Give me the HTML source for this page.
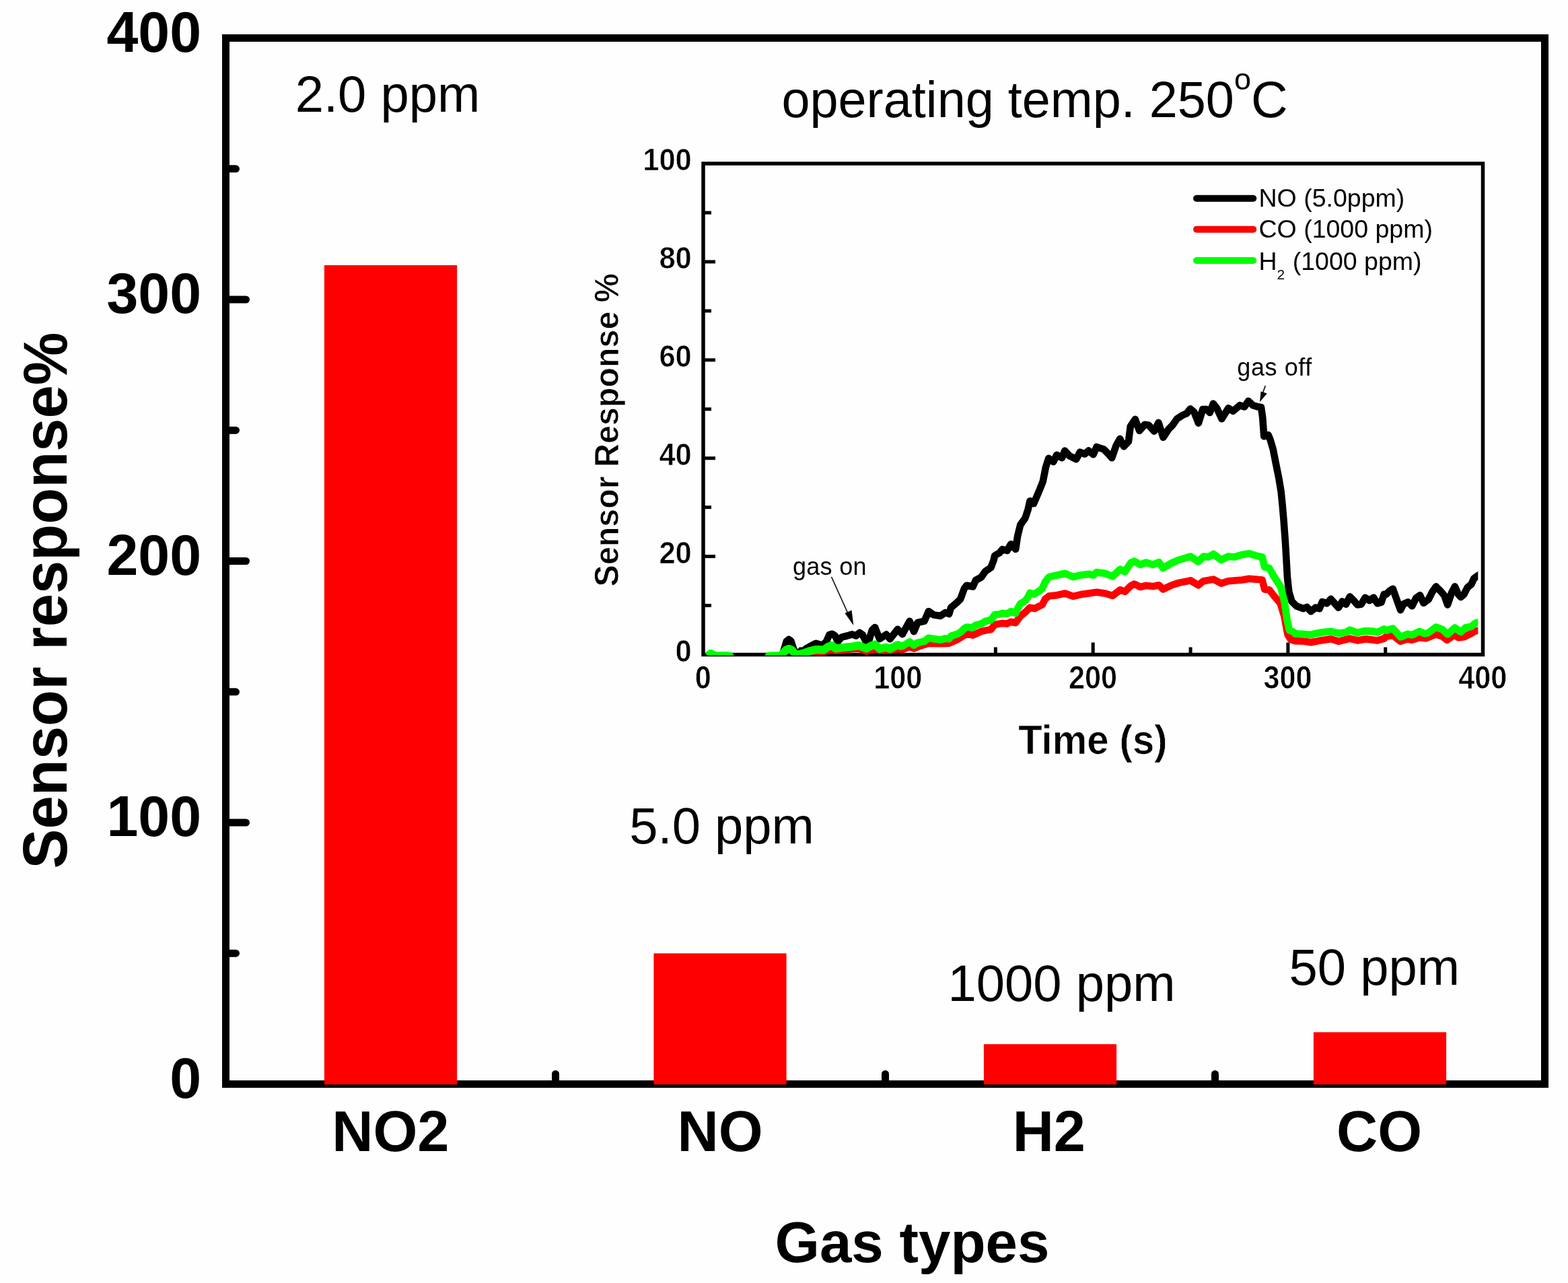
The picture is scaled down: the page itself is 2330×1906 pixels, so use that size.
<!DOCTYPE html>
<html lang="en"><head><meta charset="utf-8"><title>Sensor response by gas type</title>
<style>html,body{margin:0;padding:0;background:#fefefe;}body{width:2330px;height:1906px;overflow:hidden;}svg{display:block;}</style>
</head><body>
<svg width="2330" height="1906" viewBox="0 0 2330 1906">
<rect x="0" y="0" width="2330" height="1906" fill="#fefefe"/>
<g stroke="#000" stroke-width="11" stroke-linecap="round" fill="none">
<line x1="335.5" y1="1222.0" x2="365.5" y2="1222.0"/>
<line x1="335.5" y1="833.5" x2="365.5" y2="833.5"/>
<line x1="335.5" y1="445.0" x2="365.5" y2="445.0"/>
<line x1="335.5" y1="1416.2" x2="350.5" y2="1416.2"/>
<line x1="335.5" y1="1027.8" x2="350.5" y2="1027.8"/>
<line x1="335.5" y1="639.2" x2="350.5" y2="639.2"/>
<line x1="335.5" y1="250.8" x2="350.5" y2="250.8"/>
<line x1="825.5" y1="1610.5" x2="825.5" y2="1595.5"/>
<line x1="1315.5" y1="1610.5" x2="1315.5" y2="1595.5"/>
<line x1="1805.5" y1="1610.5" x2="1805.5" y2="1595.5"/>
</g>
<rect x="335.5" y="56.5" width="1960.0" height="1554.0" fill="none" stroke="#000" stroke-width="11"/>
<rect x="481.9" y="394.0" width="197.2" height="1217.0" fill="#fe0000"/>
<rect x="971.4" y="1416.3" width="197.2" height="194.7" fill="#fe0000"/>
<rect x="1461.9" y="1551.2" width="197.2" height="59.8" fill="#fe0000"/>
<rect x="1951.9" y="1533.4" width="197.2" height="77.6" fill="#fe0000"/>
<g font-family="'Liberation Sans', Arial, sans-serif" fill="#000">
<g font-weight="bold" font-size="86" text-anchor="end">
<text transform="translate(299 1630.8) scale(0.98 1)">0</text>
<text transform="translate(299 1242.3) scale(0.98 1)">100</text>
<text transform="translate(299 853.8) scale(0.98 1)">200</text>
<text transform="translate(299 465.3) scale(0.98 1)">300</text>
<text transform="translate(299 76.8) scale(0.98 1)">400</text>
</g>
<g font-weight="bold" font-size="86" text-anchor="middle">
<text transform="translate(580.3 1710.3) scale(0.985 1)">NO2</text>
<text transform="translate(1070 1710.3) scale(0.985 1)">NO</text>
<text transform="translate(1558.8 1710.3) scale(0.985 1)">H2</text>
<text transform="translate(2049.5 1710.3) scale(0.985 1)">CO</text>
<text transform="translate(1355.5 1874.5) scale(0.9925 1)">Gas types</text>
</g>
<text font-weight="bold" font-size="92.5" text-anchor="middle" transform="translate(98.7 892) rotate(-90) scale(0.957 1)">Sensor response%</text>
<g font-size="76">
<text x="438.7" y="166.4">2.0 ppm</text>
<text x="935.3" y="1253.3">5.0 ppm</text>
<text x="1408.5" y="1486.5">1000 ppm</text>
<text x="1915.5" y="1463">50 ppm</text>
<text x="1161.5" y="174" font-size="75.6">operating temp. 250<tspan font-size="45" dy="-41.5">o</tspan><tspan dy="41.5">C</tspan></text>
</g>
<g stroke="#000" stroke-width="5" fill="none">
<line x1="1045.0" y1="826.6" x2="1063.0" y2="826.6"/>
<line x1="1045.0" y1="680.7" x2="1063.0" y2="680.7"/>
<line x1="1045.0" y1="534.8" x2="1063.0" y2="534.8"/>
<line x1="1045.0" y1="388.9" x2="1063.0" y2="388.9"/>
<line x1="1045.0" y1="899.5" x2="1057.0" y2="899.5"/>
<line x1="1045.0" y1="753.6" x2="1057.0" y2="753.6"/>
<line x1="1045.0" y1="607.8" x2="1057.0" y2="607.8"/>
<line x1="1045.0" y1="461.9" x2="1057.0" y2="461.9"/>
<line x1="1045.0" y1="316.0" x2="1057.0" y2="316.0"/>
<line x1="1334.6" y1="972.5" x2="1334.6" y2="954.5"/>
<line x1="1624.2" y1="972.5" x2="1624.2" y2="954.5"/>
<line x1="1913.9" y1="972.5" x2="1913.9" y2="954.5"/>
<line x1="1189.8" y1="972.5" x2="1189.8" y2="961.5"/>
<line x1="1479.4" y1="972.5" x2="1479.4" y2="961.5"/>
<line x1="1769.1" y1="972.5" x2="1769.1" y2="961.5"/>
<line x1="2058.7" y1="972.5" x2="2058.7" y2="961.5"/>
</g>
<rect x="1045.0" y="243.0" width="1158.5" height="729.5" fill="none" stroke="#000" stroke-width="5.5"/>
<clipPath id="ic"><rect x="1045" y="243" width="1151.3" height="730.5"/></clipPath>
<g clip-path="url(#ic)" fill="none" stroke-linejoin="round">
<path stroke="#000" stroke-width="10.6" d="M1051.3,977.8 L1160.2,977.8 L1163.3,970.8 L1168.9,952.4 L1172.2,949.9 L1175.4,952.4 L1181.4,970.8 L1185.6,972.9 L1188.5,967.8 L1192,970.8 L1196.9,964.3 L1204,960 L1212.5,955.8 L1222.4,958.6 L1228,953 L1232.3,943.1 L1236.5,941.7 L1240.8,944.5 L1245,953 L1250.7,946.6 L1259.1,944.5 L1266.2,942.4 L1271.9,944.5 L1277.5,940 L1281.8,943.1 L1287.4,954.4 L1291.7,950.1 L1295.9,936 L1300.1,932 L1307.1,949.2 L1317,942.6 L1322.6,949.2 L1333.9,934.8 L1341,942.2 L1351.6,922.8 L1358,938.2 L1363.6,924.9 L1373.5,922.8 L1379.9,908.2 L1387.7,913.6 L1397.6,914.9 L1404.6,910.1 L1410.3,912.1 L1413.1,902.6 L1421.6,895.5 L1427.2,889.9 L1432.9,874.3 L1436.4,869.8 L1445.6,871.5 L1449.9,862 L1458.3,857.3 L1464,848.9 L1472.5,843.2 L1476.7,831.9 L1478.1,825.5 L1485.2,821.3 L1489.5,816.1 L1496.5,818 L1502.2,808.3 L1509.2,815.9 L1512.1,796.6 L1516.3,779.6 L1523.4,769.7 L1527.6,757 L1530.5,744.2 L1536.1,748.1 L1544,729.7 L1549.7,715.5 L1553.9,694.3 L1558.2,680.9 L1565.2,686.1 L1570.2,675.9 L1578,680.2 L1582.2,669.6 L1589.3,677.3 L1599.2,682.3 L1604.8,671.7 L1611.9,674.5 L1617.6,669.6 L1624.6,675.2 L1629.6,663.9 L1640.2,667.5 L1647.2,674.5 L1652.2,680.2 L1658.6,661.8 L1664.2,651.9 L1669.9,663.2 L1676.9,656.1 L1679.8,633.5 L1686.8,622.9 L1693.2,639.9 L1701,630.7 L1706.6,631.4 L1715.1,640.6 L1721.5,627.9 L1728.5,649.8 L1736.3,637.8 L1742,632.1 L1749,622.2 L1757.5,616.6 L1763.2,614.4 L1768.8,607.4 L1774.5,612.3 L1780.9,628.6 L1787.2,608.1 L1792.9,608.1 L1797.8,613 L1802.8,599.6 L1808.4,606.7 L1815.5,622.2 L1825.2,606.4 L1832.3,610.7 L1842.2,602.2 L1849.3,604.3 L1854.9,595.8 L1862,602.2 L1869.1,604.3 L1874,605 L1876.1,619.2 L1877.6,639 L1878.3,648.2 L1884.6,646 L1887.5,653.1 L1891.7,667.2 L1895.9,688.5 L1900.2,709.7 L1903.7,730.9 L1905.8,752.1 L1907.6,773.3 L1909.7,801.6 L1911.4,829.8 L1912.9,856.7 L1915.3,879.3 L1919.6,893.5 L1926.7,900.5 L1936.6,904.1 L1942.2,901.9 L1947.9,908.3 L1954.9,902.6 L1960.6,904.1 L1964.8,894.2 L1971.9,896.3 L1977.6,889.9 L1983.2,896.3 L1988.9,902.6 L1994.5,893.5 L2000.2,897.7 L2005.8,886.4 L2011.5,892 L2017.1,898.4 L2022.8,897.7 L2028.5,887.8 L2034.8,892 L2041.2,887.8 L2046.8,896.3 L2052.5,894.9 L2056.7,882.8 L2060,882.7 L2064.9,877.8 L2069.8,874.8 L2074.7,888.6 L2081.1,906.2 L2085.5,897.4 L2092.3,894.4 L2098.2,900.3 L2104.1,888.6 L2110,884.2 L2115.3,895.9 L2122.7,890.5 L2128.6,878.8 L2133.9,871.4 L2141.3,878.8 L2146.2,884.6 L2151.1,898.4 L2157,880.7 L2161.9,871.4 L2166.8,882.7 L2170.7,887.1 L2175.6,882.7 L2180.5,872.9 L2186.3,868 L2190.3,859.2 L2195.7,855.3 L2201,852.3"/>
<path stroke="#fe0000" stroke-width="10.6" d="M1051.3,979.3 L1202.6,979.3 L1209.7,968.7 L1222.4,968.1 L1228,967 L1235.1,965.8 L1242.2,966.5 L1252.1,966 L1266.2,963.9 L1276.1,963.6 L1287.4,967.4 L1294.5,965.5 L1300.1,964.4 L1307.1,966.2 L1322.6,966.2 L1333.9,964.1 L1341,965.1 L1351.6,960.6 L1358,963.4 L1366.4,959.9 L1379.9,955.6 L1397.6,956.3 L1410.3,955.6 L1421.6,950.7 L1436.4,941.5 L1445.6,943.6 L1458.3,937.9 L1472.5,935.1 L1478.1,928 L1489.5,925.9 L1496.5,926.6 L1502.2,923.8 L1509.2,925.2 L1516.3,915.3 L1523.4,909.7 L1530.5,902.6 L1537.5,904 L1548.8,898.3 L1553.1,889.9 L1558.7,885.6 L1570.5,884.2 L1582.7,881.5 L1594.9,885.9 L1605.3,883.3 L1617.5,881.5 L1629.7,879.8 L1642,881.5 L1653.3,885 L1664.6,876.3 L1671.6,878.9 L1680.3,870.2 L1685.5,867.6 L1694.3,872 L1703,869.9 L1713.4,871.1 L1722.2,869.3 L1728.3,875.4 L1741.3,869.3 L1751.8,865.9 L1769.2,862.4 L1780.6,869.3 L1788.4,863.2 L1803.2,860.6 L1814.6,866.7 L1825,863.2 L1846,861.5 L1856.4,859.7 L1875.6,861.5 L1879.1,875.4 L1886.1,876.3 L1893,885 L1902.6,896.4 L1908.4,915.5 L1911.9,934.7 L1913.6,942.9 L1917.9,950 L1923.8,952.1 L1936.6,952.5 L1947.9,954.2 L1959.2,952.1 L1977.6,949.3 L1988.9,952.8 L2005.8,948.6 L2017.1,951.4 L2029.9,949.3 L2046.8,951.4 L2056.7,948.6 L2060,945.4 L2069.8,943.9 L2081.1,952.7 L2091.3,949.3 L2098.2,950.8 L2109,947.3 L2118.8,948.3 L2133.9,942.4 L2143.3,945.4 L2150.1,950.8 L2160.9,943.4 L2167.7,947.3 L2175.6,946.3 L2186.3,941 L2192.2,937.5 L2196.1,937 L2201,936.6"/>
<path stroke="#00fe00" stroke-width="12" d="M1051.3,974.5 L1056.3,970.9 L1061.2,973.7 L1068.3,974.5 L1079.6,974.1 L1085.2,975.5 L1088.1,980.5 L1139,980.5 L1142.5,974.8 L1158.8,974.2 L1162.3,972 L1168,965.6 L1172.2,963.9 L1176.4,965.6 L1182.1,972 L1187,972.3 L1195.5,969.9 L1204,967 L1213.9,964.9 L1223.8,965.6 L1230.9,960.7 L1235.8,959 L1242.2,963.5 L1252.1,962.1 L1266.2,960.7 L1276.1,959 L1287.4,963.5 L1294.5,959.3 L1300.1,957.6 L1307.1,963.9 L1317,961.8 L1322.6,963.9 L1333.9,958.2 L1341,960.4"/>
<path stroke="#00fe00" stroke-width="10.8" d="M1051.3,974 L1056.3,970.4 L1061.2,973.2 L1068.3,974 L1079.6,973.6 L1085.2,975 L1088.1,980 L1139,980 L1142.5,974.3 L1158.8,973.7 L1162.3,971.5 L1168,965.1 L1172.2,963.4 L1176.4,965.1 L1182.1,971.5 L1187,971.8 L1195.5,969.4 L1204,966.5 L1213.9,964.4 L1223.8,965.1 L1230.9,960.2 L1235.8,958.5 L1242.2,963 L1252.1,961.6 L1266.2,960.2 L1276.1,958.5 L1287.4,963 L1294.5,958.8 L1300.1,957.1 L1307.1,963.4 L1317,961.3 L1322.6,963.4 L1333.9,957.7 L1341,959.9 L1351.6,953.5 L1358,958.4 L1363.6,954.9 L1373.5,952.8 L1379.9,947.8 L1387.7,949.2 L1397.6,950.7 L1404.6,948.5 L1410.3,949.2 L1413.1,945 L1421.6,942.2 L1427.2,939.3 L1432.9,933.7 L1436.4,931.6 L1445.6,932.3 L1449.9,928.7 L1458.3,926.6 L1464,923.1 L1472.5,921 L1476.7,915.3 L1478.1,913.2 L1485.2,912.5 L1489.5,911.1 L1496.5,911.8 L1502.2,908.2 L1509.2,911.1 L1512.1,904 L1516.3,896.9 L1523.4,892.7 L1527.6,887 L1530.5,880.7 L1536.1,882.8 L1543.2,878.6 L1548.8,874.3 L1553.1,864.4 L1558.7,857.3 L1570.5,854.5 L1582.7,851.9 L1594.9,857.1 L1605.3,854.5 L1617.5,852.8 L1624.5,854.5 L1629.7,850.2 L1642,851.9 L1653.3,856.3 L1664.6,845.8 L1671.6,849.3 L1680.3,836.2 L1685.5,833.6 L1694.3,838.8 L1703,835.7 L1713.4,838.8 L1722.2,835.3 L1728.3,844.1 L1741.3,836.2 L1751.8,831.8 L1769.2,826.6 L1780.6,834.5 L1788.4,826.6 L1795.4,827.5 L1803.2,823.1 L1814.6,831.8 L1825,826.6 L1833.8,827.5 L1846,824 L1856.4,822.3 L1866.9,825.7 L1875.6,827.5 L1879.1,842.3 L1886.1,844.1 L1893,856.3 L1903.2,872 L1908.7,894.6 L1912.6,920.8 L1916.1,936.5 L1920.3,938 L1925.9,941.5 L1936.6,942.2 L1947.9,942.9 L1956.3,940.8 L1964.8,939.4 L1977.6,938 L1988.9,940.8 L2000.2,939.4 L2005.8,935.9 L2017.1,940.1 L2028.5,937.3 L2041.2,938 L2046.8,939.4 L2056.7,934.5 L2060,936.6 L2069.8,933.6 L2081.1,946.3 L2092.3,941.9 L2098.2,943.4 L2109,938 L2116.8,941.4 L2122.7,940 L2133.9,931.7 L2143.3,935.1 L2151.1,942.4 L2161.9,932.6 L2170.7,939 L2177.5,932.6 L2186.3,930.7 L2192.2,925.8 L2196.1,924.8 L2201,923.8"/>
</g>
<g font-weight="bold" font-size="46.8" text-anchor="end" stroke="#fefefe" stroke-width="0.7">
<text transform="translate(1027.8 982.9) scale(0.93 1)">0</text>
<text transform="translate(1027.8 837.0) scale(0.93 1)">20</text>
<text transform="translate(1027.8 691.1) scale(0.93 1)">40</text>
<text transform="translate(1027.8 545.2) scale(0.93 1)">60</text>
<text transform="translate(1027.8 399.3) scale(0.93 1)">80</text>
<text transform="translate(1027.8 253.4) scale(0.93 1)">100</text>
</g>
<g font-weight="bold" font-size="47.5" text-anchor="middle" stroke="#fefefe" stroke-width="0.7">
<text transform="translate(1044.7 1023.4) scale(0.91 1)">0</text>
<text transform="translate(1334.3 1023.4) scale(0.91 1)">100</text>
<text transform="translate(1624.0 1023.4) scale(0.91 1)">200</text>
<text transform="translate(1913.6 1023.4) scale(0.91 1)">300</text>
<text transform="translate(2203.2 1023.4) scale(0.91 1)">400</text>
</g>
<text font-weight="bold" font-size="61.5" text-anchor="middle" stroke="#fefefe" stroke-width="0.7" transform="translate(1623.8 1119.6) scale(0.943 1)">Time (s)</text>
<text font-weight="bold" font-size="50" text-anchor="middle" stroke="#fefefe" stroke-width="0.7" transform="translate(919 638.8) rotate(-90) scale(0.968 1)">Sensor Response %</text>
<g stroke-width="10" stroke-linecap="round" fill="none">
<line x1="1778" y1="294.7" x2="1862.3" y2="294.7" stroke="#000"/>
<line x1="1778" y1="340.8" x2="1862.3" y2="340.8" stroke="#fe0000"/>
<line x1="1778" y1="387.0" x2="1862.3" y2="387.0" stroke="#00fe00"/>
</g>
<g font-size="37.5">
<text x="1870.5" y="306.5">NO (5.0ppm)</text>
<text x="1870.5" y="353">CO (1000 ppm)</text>
<text x="1870.5" y="401">H<tspan font-size="21" dy="14">2</tspan><tspan dy="-14" dx="1"> (1000 ppm)</tspan></text>
</g>
<g font-size="36">
<text x="1838.3" y="557.8" textLength="111" lengthAdjust="spacing">gas off</text>
<text x="1178" y="853.6" textLength="109.5" lengthAdjust="spacing">gas on</text>
</g>
<g stroke="#111" stroke-width="1.7" fill="#000">
<line x1="1235.5" y1="857" x2="1264" y2="920"/>
<polygon points="1268.3,929 1255.5,911 1265.5,906.5" stroke="none"/>
<line x1="1880.3" y1="573" x2="1876" y2="585"/>
<polygon points="1872,597.3 1873.6,581.5 1882.8,584.5" stroke="none"/>
</g>
</g>
</svg>
</body></html>
